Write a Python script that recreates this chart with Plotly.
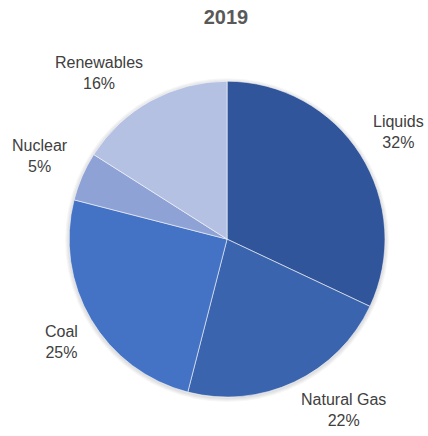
import math
import plotly.graph_objects as go

# 2019 energy mix
labels = ["Liquids", "Natural Gas", "Coal", "Nuclear", "Renewables"]
shares = [32, 22, 25, 5, 16]
colors = ["#31559A", "#3B64AE", "#4472C4", "#8EA2D5", "#B5C1E2"]

W, H = 428, 436
dom_x = [0.1615, 0.8995]
dom_y = [0.089, 0.814]
label_font = dict(family="Liberation Sans, Arial, sans-serif", size=16, color="#404040")

fig = go.Figure(
    go.Pie(
        labels=labels,
        values=shares,
        sort=False,
        direction="clockwise",
        rotation=0,
        marker=dict(colors=colors, line=dict(color="rgba(255,255,255,0.55)", width=1)),
        textinfo="none",
        hoverinfo="label+percent",
        domain=dict(x=dom_x, y=dom_y),
        showlegend=False,
    )
)

# Pie geometry in pixels, derived from the domain
cx = (dom_x[0] + dom_x[1]) / 2 * W
cy = (1 - (dom_y[0] + dom_y[1]) / 2) * H
radius = min((dom_x[1] - dom_x[0]) * W, (dom_y[1] - dom_y[0]) * H) / 2

# Soft shadow around the pie
for k in range(1, 5):
    rr = radius + k
    fig.add_shape(
        type="circle",
        xref="paper",
        yref="paper",
        x0=(cx - rr) / W,
        x1=(cx + rr) / W,
        y0=1 - (cy + 1 + rr) / H,
        y1=1 - (cy + 1 - rr) / H,
        line=dict(width=0),
        fillcolor="rgba(0,0,0,0.03)",
        layer="below",
    )

# Outside-end labels: the text corner nearest the pie sits on the slice's mid-angle ray
label_r = radius + 14
desc = 5  # space between the text and the annotation box edge (vertical)
total = sum(shares)
cum = 0
for name, val in zip(labels, shares):
    mid = (cum + val / 2) / total * 2 * math.pi
    cum += val
    sx, sy = math.sin(mid), math.cos(mid)
    px = cx + label_r * sx
    py = cy - label_r * sy
    upper = sy >= 0
    py += desc if upper else -desc
    fig.add_annotation(
        x=px / W,
        y=1 - py / H,
        xref="paper",
        yref="paper",
        text=f"{name}<br>{val}%",
        showarrow=False,
        xanchor="left" if sx >= 0 else "right",
        yanchor="bottom" if upper else "top",
        align="center",
        borderpad=0,
        font=label_font,
    )

fig.update_layout(
    width=W,
    height=H,
    margin=dict(l=0, r=0, t=0, b=0),
    paper_bgcolor="white",
    plot_bgcolor="white",
    title=dict(
        text="<b>2019</b>",
        x=0.528,
        xanchor="center",
        y=0.962,
        yanchor="middle",
        font=dict(family="Liberation Sans, Arial, sans-serif", size=20, color="#595959"),
    ),
)

fig.write_html("out.html")
